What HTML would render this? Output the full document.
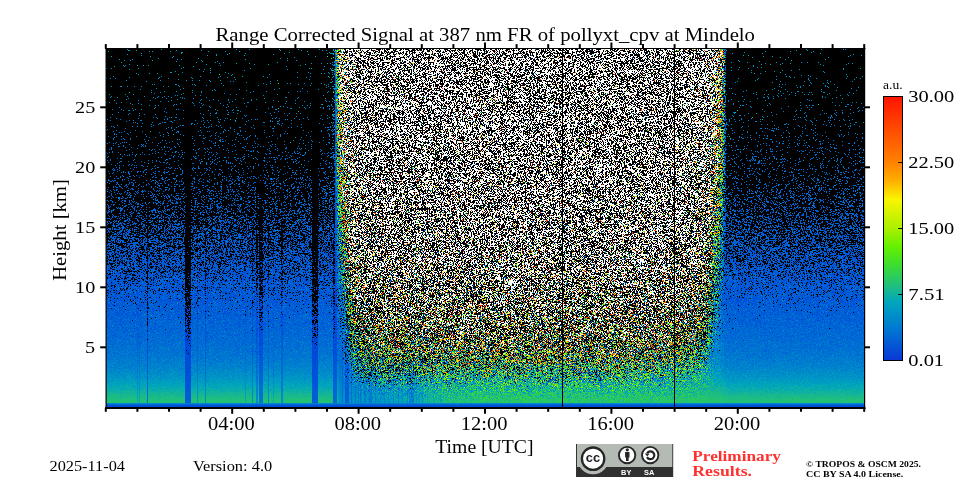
<!DOCTYPE html>
<html>
<head>
<meta charset="utf-8">
<style>
html,body{margin:0;padding:0;background:#fff;}
body{width:960px;height:480px;position:relative;overflow:hidden;font-family:"Liberation Serif",serif;}
#fb{position:absolute;left:106px;top:48px;width:758px;height:359px;background:#000;}
#fb i{position:absolute;top:0;height:359px;display:block;}
#c{position:absolute;left:106px;top:48px;width:758px;height:359px;}
svg{position:absolute;left:0;top:0;}
</style>
</head>
<body>
<div id="fb"><i style="left:0px;width:6px;background:linear-gradient(#000304 0px,#000304 16px,#000304 32px,#000609 48px,#000204 64px,#000407 80px,#00080f 96px,#000b14 112px,#000b17 128px,#000e1e 144px,#001935 160px,#001a3a 176px,#00204a 192px,#002e6e 208px,#003989 224px,#00419e 240px,#004db2 256px,#0055bc 272px,#005cbb 288px,#0063b9 304px,#0075b3 320px,#028da4 336px,#17a576 352px,#19a673 354px,#0076b3 355px,#0059bc 356px,#0049be 357px,#0042be 358px)"></i><i style="left:6px;width:6px;background:linear-gradient(#000000 0px,#000102 16px,#000304 32px,#000406 48px,#000406 64px,#000a11 80px,#000a13 96px,#00050b 112px,#00142a 128px,#001225 144px,#000f1e 160px,#00244d 176px,#003271 192px,#003271 208px,#004299 224px,#004ebb 240px,#0057cd 256px,#0060d5 272px,#0066d4 288px,#0073d1 304px,#0084cb 320px,#03a1b8 336px,#1bbb85 352px,#1dbd80 354px,#0082cc 355px,#0064d5 356px,#0054d7 357px,#004ad8 358px)"></i><i style="left:12px;width:6px;background:linear-gradient(#000000 0px,#000406 16px,#000204 32px,#000102 48px,#00060a 64px,#000204 80px,#000c15 96px,#000d17 112px,#000e1a 128px,#00162b 144px,#001835 160px,#002a5b 176px,#00295d 192px,#00337b 208px,#0046a7 224px,#004fb9 240px,#005ad1 256px,#005fd5 272px,#006ad3 288px,#0073d1 304px,#0082cc 320px,#03a1b8 336px,#1aba87 352px,#1cbc83 354px,#0087ca 355px,#0066d5 356px,#0054d7 357px,#004bd8 358px)"></i><i style="left:18px;width:6px;background:linear-gradient(#000d10 0px,#00070a 16px,#000406 32px,#000709 48px,#000508 64px,#00070d 80px,#00080f 96px,#00080f 112px,#000e1c 128px,#001730 144px,#001833 160px,#002756 176px,#002c64 192px,#00367c 208px,#003786 224px,#0045a7 240px,#0056c8 256px,#0062d5 272px,#0068d4 288px,#0075d1 304px,#0084cb 320px,#04a2b7 336px,#1abb86 352px,#1cbc82 354px,#0086ca 355px,#0066d4 356px,#0053d7 357px,#004ad8 358px)"></i><i style="left:24px;width:6px;background:linear-gradient(#000000 0px,#000304 16px,#000102 32px,#000204 48px,#000508 64px,#00070c 80px,#000306 96px,#000c18 112px,#000e1c 128px,#00142a 144px,#001937 160px,#001937 176px,#003478 192px,#003f90 208px,#00357f 224px,#004eb9 240px,#0056c1 256px,#0060d3 272px,#006ad3 288px,#0073d1 304px,#0082cc 320px,#03a1b8 336px,#1aba87 352px,#1cbc82 354px,#0088ca 355px,#0068d4 356px,#0053d7 357px,#004ad8 358px)"></i><i style="left:30px;width:6px;background:linear-gradient(#00090c 0px,#000304 16px,#000406 32px,#000406 48px,#00060a 64px,#00060a 80px,#00060a 96px,#00070d 112px,#00070f 128px,#000c1a 144px,#001a37 160px,#001835 176px,#00295d 192px,#002b66 208px,#003e95 224px,#004fc0 240px,#0052c7 256px,#005ed5 272px,#0063d5 288px,#0070d2 304px,#007ecd 320px,#029abe 336px,#12b398 352px,#13b595 354px,#0087ca 355px,#0067d4 356px,#0053d7 357px,#004bd8 358px)"></i><i style="left:36px;width:6px;background:linear-gradient(#000000 0px,#000102 16px,#000102 32px,#000102 48px,#000102 64px,#000306 80px,#000a13 96px,#00060d 112px,#000b15 128px,#000e1c 144px,#001021 160px,#001b3e 176px,#00285d 192px,#003071 208px,#003788 224px,#0047a9 240px,#004db9 256px,#0058c1 272px,#0063cf 288px,#006ed2 304px,#007dcd 320px,#0397bc 336px,#15ae94 352px,#17af90 354px,#0080cd 355px,#0068d4 356px,#0054d7 357px,#004bd8 358px)"></i><i style="left:42px;width:6px;background:linear-gradient(#000608 0px,#000406 16px,#000304 32px,#000508 48px,#000204 64px,#00070a 80px,#00070d 96px,#00070d 112px,#000c18 128px,#001327 144px,#001225 160px,#001e40 176px,#002a5d 192px,#00347d 208px,#003f93 224px,#004bb0 240px,#0056c6 256px,#0063d2 272px,#0069d4 288px,#0074d1 304px,#0084cb 320px,#02a0ba 336px,#1abb86 352px,#1cbc83 354px,#0084cc 355px,#0066d4 356px,#0055d7 357px,#004bd8 358px)"></i><i style="left:48px;width:6px;background:linear-gradient(#000000 0px,#000102 16px,#000608 32px,#00070a 48px,#00090e 64px,#000306 80px,#00070d 96px,#000c15 112px,#001123 128px,#00162e 144px,#001f42 160px,#00234b 176px,#002a62 192px,#002e6d 208px,#003e93 224px,#004fb9 240px,#0056c8 256px,#0063d2 272px,#0069d4 288px,#0073d1 304px,#0084cb 320px,#03a1b9 336px,#19ba88 352px,#1bbc84 354px,#0084cc 355px,#0068d4 356px,#0054d7 357px,#004ad8 358px)"></i><i style="left:54px;width:6px;background:linear-gradient(#000304 0px,#000000 16px,#000406 32px,#00070a 48px,#000508 64px,#00070d 80px,#000b13 96px,#00080f 112px,#001427 128px,#000d1c 144px,#001935 160px,#002149 176px,#002f6a 192px,#003a88 208px,#003a88 224px,#0051bb 240px,#005acf 256px,#0062d3 272px,#0069d1 288px,#0075d1 304px,#0084cb 320px,#03a0b9 336px,#1aba87 352px,#1cbc83 354px,#007fcd 355px,#0068d4 356px,#0054d7 357px,#004ad8 358px)"></i><i style="left:60px;width:6px;background:linear-gradient(#000304 0px,#000000 16px,#000608 32px,#00070a 48px,#00060a 64px,#000b13 80px,#00080f 96px,#000d18 112px,#000c18 128px,#00162c 144px,#001631 160px,#002149 176px,#002556 192px,#00357a 208px,#0045a0 224px,#004cb9 240px,#0057cb 256px,#0061d5 272px,#0068d4 288px,#0073d1 304px,#0084cb 320px,#03a1b8 336px,#1abb86 352px,#1cbc82 354px,#0082cc 355px,#0067d4 356px,#0054d7 357px,#004bd8 358px)"></i><i style="left:66px;width:6px;background:linear-gradient(#000304 0px,#00070a 16px,#000204 32px,#000508 48px,#00090e 64px,#000a10 80px,#00080e 96px,#00070c 112px,#001120 128px,#00142a 144px,#001f40 160px,#002b5f 176px,#002b5f 192px,#003b88 208px,#00419a 224px,#004ab0 240px,#0059d1 256px,#0063d5 272px,#0069d4 288px,#0073d1 304px,#0085cb 320px,#03a1b9 336px,#1abb87 352px,#1cbc82 354px,#0083cc 355px,#0067d4 356px,#0053d7 357px,#004ad8 358px)"></i><i style="left:72px;width:6px;background:linear-gradient(#00090c 0px,#000608 16px,#00070a 32px,#000b10 48px,#000508 64px,#000a11 80px,#00060a 96px,#000e1a 112px,#000f1e 128px,#00172e 144px,#001228 160px,#00244b 176px,#002656 192px,#003f8e 208px,#003f93 224px,#004cb4 240px,#0058cd 256px,#005dd1 272px,#006ad3 288px,#0073d1 304px,#0084cb 320px,#03a1b9 336px,#19ba88 352px,#1bbb85 354px,#0083cc 355px,#0067d4 356px,#0053d7 357px,#004ad8 358px)"></i><i style="left:78px;width:6px;background:linear-gradient(#000000 0px,#000000 16px,#000102 32px,#000102 48px,#000000 64px,#000000 80px,#000000 96px,#000102 112px,#000000 128px,#000408 144px,#000811 160px,#000711 176px,#000711 192px,#000b1a 208px,#000c1f 224px,#001433 240px,#001e50 256px,#002970 272px,#003ba6 288px,#004fd2 304px,#0057d5 320px,#0062d2 336px,#046dc8 352px,#046dc8 354px,#007ad0 355px,#0063d5 356px,#0052d7 357px,#0049d8 358px)"></i><i style="left:84px;width:6px;background:linear-gradient(#000000 0px,#000102 16px,#00080c 32px,#00080c 48px,#000102 64px,#00060a 80px,#00080f 96px,#000911 112px,#001123 128px,#000e1c 144px,#001730 160px,#001c3e 176px,#002450 192px,#002b64 208px,#003988 224px,#00429c 240px,#004bb2 256px,#0058c6 272px,#0060ce 288px,#006bd0 304px,#007ccd 320px,#0294be 336px,#16ab94 352px,#17ad90 354px,#0081cd 355px,#0066d5 356px,#0054d7 357px,#004ad8 358px)"></i><i style="left:90px;width:6px;background:linear-gradient(#000304 0px,#000608 16px,#000304 32px,#00090e 48px,#000204 64px,#000a11 80px,#000204 96px,#000d18 112px,#000c18 128px,#000e1f 144px,#00152c 160px,#001631 176px,#002e65 192px,#00316f 208px,#003e90 224px,#004ab2 240px,#0050bd 256px,#005fd3 272px,#0066d4 288px,#0070d2 304px,#0080cc 320px,#029bbc 336px,#15b591 352px,#17b68d 354px,#0083cc 355px,#0066d5 356px,#0054d7 357px,#004ad8 358px)"></i><i style="left:96px;width:6px;background:linear-gradient(#000304 0px,#000608 16px,#000102 32px,#000102 48px,#00060a 64px,#000a11 80px,#000a13 96px,#00080f 112px,#000c18 128px,#001021 144px,#001a37 160px,#001d3e 176px,#00285d 192px,#00357d 208px,#003a8f 224px,#0047b0 240px,#0054cb 256px,#0060d3 272px,#0064d4 288px,#0070d2 304px,#0080cc 320px,#039abc 336px,#16b391 352px,#17b58d 354px,#0082cc 355px,#0067d4 356px,#0054d7 357px,#004ad8 358px)"></i><i style="left:102px;width:6px;background:linear-gradient(#000304 0px,#000304 16px,#000406 32px,#000406 48px,#00060a 64px,#000a11 80px,#00080f 96px,#001120 112px,#000b16 128px,#001a34 144px,#001833 160px,#002754 176px,#002b5e 192px,#003478 208px,#00429c 224px,#004eb9 240px,#0058cd 256px,#005fd3 272px,#0069d4 288px,#0074d1 304px,#0084cb 320px,#03a0b8 336px,#1abb86 352px,#1cbc82 354px,#0087ca 355px,#0068d4 356px,#0054d7 357px,#004ad8 358px)"></i><i style="left:108px;width:6px;background:linear-gradient(#000608 0px,#000406 16px,#000302 32px,#000406 48px,#00090f 64px,#00080f 80px,#000b13 96px,#000e1a 112px,#000c18 128px,#000e1c 144px,#001c3b 160px,#002b5f 176px,#003371 192px,#003276 208px,#003b8f 224px,#0052bf 240px,#005bcf 256px,#0062d5 272px,#0068d4 288px,#0071d2 304px,#0083cb 320px,#03a0b9 336px,#19ba87 352px,#1cbc83 354px,#0086ca 355px,#0066d4 356px,#0054d7 357px,#004ad8 358px)"></i><i style="left:114px;width:6px;background:linear-gradient(#000304 0px,#000304 16px,#00070a 32px,#000204 48px,#000306 64px,#000a11 80px,#000c15 96px,#000508 112px,#000c18 128px,#001327 144px,#001833 160px,#002b62 176px,#002454 192px,#003074 208px,#004299 224px,#004ab2 240px,#0056c8 256px,#0061d5 272px,#006ad3 288px,#0074d1 304px,#0085cb 320px,#02a0ba 336px,#1aba87 352px,#1bbc83 354px,#0085cb 355px,#0068d4 356px,#0054d7 357px,#004ad8 358px)"></i><i style="left:120px;width:6px;background:linear-gradient(#000608 0px,#000000 16px,#000608 32px,#000508 48px,#000c12 64px,#000306 80px,#00060a 96px,#000b15 112px,#001021 128px,#001a34 144px,#001228 160px,#00234b 176px,#002f6a 192px,#003378 208px,#00439e 224px,#0051c4 240px,#0056cd 256px,#0061d5 272px,#0068d4 288px,#0072d1 304px,#0084cb 320px,#03a1b8 336px,#1abb85 352px,#1cbd82 354px,#0084cb 355px,#0065d5 356px,#0055d7 357px,#004ad8 358px)"></i><i style="left:126px;width:6px;background:linear-gradient(#000304 0px,#000102 16px,#000608 32px,#000406 48px,#00090e 64px,#00080c 80px,#000911 96px,#000a13 112px,#000c18 128px,#001225 144px,#001327 160px,#00244d 176px,#002d66 192px,#003988 208px,#0045a5 224px,#004db7 240px,#0057c6 256px,#0062d5 272px,#0069d4 288px,#0070d2 304px,#0084cb 320px,#02a0ba 336px,#19ba88 352px,#1bbc84 354px,#0088ca 355px,#0067d4 356px,#0055d7 357px,#004bd8 358px)"></i><i style="left:132px;width:6px;background:linear-gradient(#000304 0px,#000000 16px,#000102 32px,#000204 48px,#000405 64px,#00080f 80px,#00060a 96px,#000a13 112px,#00172e 128px,#001325 144px,#001730 160px,#001f45 176px,#00316f 192px,#003071 208px,#0047ac 224px,#004fbd 240px,#0059cd 256px,#0060d5 272px,#0069d4 288px,#0071d2 304px,#0084cb 320px,#03a1b8 336px,#1abb85 352px,#1cbd81 354px,#0083cc 355px,#0065d5 356px,#0055d7 357px,#004ad8 358px)"></i><i style="left:138px;width:6px;background:linear-gradient(#00090c 0px,#000406 16px,#000102 32px,#000508 48px,#000508 64px,#000508 80px,#000c15 96px,#00080f 112px,#000911 128px,#000c1a 144px,#001833 160px,#00234b 176px,#002f6a 192px,#003681 208px,#0047ae 224px,#004eb6 240px,#0058cd 256px,#005fd1 272px,#0066d4 288px,#0072d1 304px,#0081cc 320px,#029ebb 336px,#16b88e 352px,#18b98a 354px,#0086cb 355px,#0068d4 356px,#0054d7 357px,#004ad8 358px)"></i><i style="left:144px;width:6px;background:linear-gradient(#000000 0px,#000304 16px,#000000 32px,#000508 48px,#000204 64px,#00060a 80px,#000c15 96px,#00080f 112px,#000c18 128px,#001529 144px,#00142c 160px,#00214b 176px,#002e6d 192px,#002a64 208px,#003f97 224px,#004eb6 240px,#004ebb 256px,#005fd3 272px,#0063d2 288px,#006fd2 304px,#0080cc 320px,#039bbb 336px,#15b293 352px,#17b48f 354px,#0086ca 355px,#0066d5 356px,#0054d7 357px,#004ad8 358px)"></i><i style="left:150px;width:6px;background:linear-gradient(#000000 0px,#000000 16px,#000102 32px,#000102 48px,#000204 64px,#000000 80px,#00060a 96px,#00050b 112px,#000408 128px,#00060d 144px,#00070f 160px,#000711 176px,#000d21 192px,#00132e 208px,#001c47 224px,#002764 240px,#003fa8 256px,#0041aa 272px,#0052d5 288px,#005cd6 304px,#0068d3 320px,#0078ce 336px,#0487c1 352px,#0588c0 354px,#0082cc 355px,#0065d5 356px,#0053d7 357px,#0049d8 358px)"></i><i style="left:156px;width:6px;background:linear-gradient(#000000 0px,#000000 16px,#000508 32px,#000508 48px,#000102 64px,#000508 80px,#000306 96px,#000c18 112px,#000f1c 128px,#00080f 144px,#001935 160px,#001d40 176px,#002b62 192px,#002c66 208px,#003581 224px,#0043a5 240px,#004db7 256px,#0059cd 272px,#0064d2 288px,#006dd2 304px,#007dcd 320px,#0398bc 336px,#15af93 352px,#17b08f 354px,#0084cb 355px,#0067d4 356px,#0054d7 357px,#004ad8 358px)"></i><i style="left:162px;width:6px;background:linear-gradient(#000304 0px,#000102 16px,#000406 32px,#000102 48px,#00080c 64px,#000a11 80px,#000a13 96px,#000b16 112px,#001123 128px,#000f21 144px,#00162e 160px,#002047 176px,#00214b 192px,#002d6b 208px,#003b8c 224px,#0046a9 240px,#0057cf 256px,#0059cf 272px,#0066d4 288px,#006ed2 304px,#007dce 320px,#0298bd 336px,#11af9a 352px,#13b096 354px,#0086ca 355px,#0066d4 356px,#0055d7 357px,#004bd8 358px)"></i><i style="left:168px;width:6px;background:linear-gradient(#000304 0px,#000102 16px,#000302 32px,#000508 48px,#000b10 64px,#00090e 80px,#00070d 96px,#000b15 112px,#000f1e 128px,#001021 144px,#001730 160px,#002149 176px,#003373 192px,#003c8c 208px,#0044aa 224px,#004db9 240px,#0058cf 256px,#0064d2 272px,#0068d4 288px,#0072d1 304px,#0084cb 320px,#03a1b9 336px,#1abb87 352px,#1cbc82 354px,#0087ca 355px,#0068d4 356px,#0052d7 357px,#004ad8 358px)"></i><i style="left:174px;width:6px;background:linear-gradient(#000608 0px,#000102 16px,#000000 32px,#000204 48px,#000508 64px,#00070d 80px,#00060a 96px,#00080f 112px,#000911 128px,#000c18 144px,#001835 160px,#00142c 176px,#001837 192px,#002b64 208px,#003278 224px,#003f9a 240px,#0054c4 256px,#0057cf 272px,#0063d4 288px,#006dd3 304px,#007bce 320px,#0294c0 336px,#11ab9c 352px,#12ac9a 354px,#0080cd 355px,#0067d4 356px,#0054d7 357px,#004ad8 358px)"></i><i style="left:180px;width:6px;background:linear-gradient(#000304 0px,#000608 16px,#000204 32px,#000406 48px,#00080c 64px,#00060a 80px,#000406 96px,#000a13 112px,#00070f 128px,#001327 144px,#001833 160px,#002651 176px,#002c64 192px,#003d8e 208px,#003f93 224px,#0050bb 240px,#0055cb 256px,#0062d3 272px,#0067d4 288px,#0074d1 304px,#0085cb 320px,#03a1b9 336px,#1abb86 352px,#1cbc82 354px,#0086ca 355px,#0066d5 356px,#0054d7 357px,#004bd8 358px)"></i><i style="left:186px;width:6px;background:linear-gradient(#000000 0px,#000304 16px,#000304 32px,#000508 48px,#000306 64px,#000102 80px,#00060a 96px,#000d1a 112px,#00101e 128px,#00152c 144px,#001327 160px,#00224b 176px,#00275b 192px,#003886 208px,#003d8c 224px,#004bb4 240px,#0055c9 256px,#0061d5 272px,#006ad3 288px,#0072d1 304px,#0083cc 320px,#03a1b9 336px,#1abb87 352px,#1cbc82 354px,#0087ca 355px,#0065d5 356px,#0055d7 357px,#004bd8 358px)"></i><i style="left:192px;width:6px;background:linear-gradient(#000608 0px,#000102 16px,#000102 32px,#000406 48px,#00080c 64px,#000306 80px,#000a13 96px,#000d17 112px,#000f1e 128px,#001225 144px,#001f42 160px,#00244d 176px,#002e6a 192px,#003a88 208px,#00419a 224px,#004fbb 240px,#0057cb 256px,#0062d5 272px,#006ad3 288px,#0072d1 304px,#0085cb 320px,#03a1b9 336px,#1abb86 352px,#1cbd81 354px,#0087ca 355px,#0067d5 356px,#0054d7 357px,#004ad8 358px)"></i><i style="left:198px;width:6px;background:linear-gradient(#000608 0px,#000304 16px,#000608 32px,#000204 48px,#00080c 64px,#000204 80px,#000408 96px,#00070d 112px,#000e1c 128px,#000f1e 144px,#002144 160px,#002c5f 176px,#002d68 192px,#003b87 208px,#00429e 224px,#0052c2 240px,#0057cd 256px,#0062d2 272px,#006ad3 288px,#0075d1 304px,#0083cb 320px,#03a0b9 336px,#1aba87 352px,#1cbc82 354px,#0086ca 355px,#0068d4 356px,#0054d7 357px,#004ad8 358px)"></i><i style="left:204px;width:6px;background:linear-gradient(#000000 0px,#000406 16px,#000508 32px,#000102 48px,#000102 64px,#000102 80px,#00070d 96px,#000102 112px,#00050a 128px,#000a16 144px,#000914 160px,#000b1a 176px,#000e1f 192px,#001533 208px,#00193e 224px,#001e4c 240px,#002867 256px,#003b98 272px,#0043ae 288px,#0056d6 304px,#0061d3 320px,#016fcc 336px,#097cbb 352px,#097dba 354px,#007fcd 355px,#0065d5 356px,#0054d7 357px,#0049d8 358px)"></i><i style="left:210px;width:6px;background:linear-gradient(#000304 0px,#000102 16px,#000304 32px,#000102 48px,#000508 64px,#000306 80px,#000408 96px,#000408 112px,#000811 128px,#000811 144px,#000e1c 160px,#001a39 176px,#001a3e 192px,#002352 208px,#002a66 224px,#00337d 240px,#00429c 256px,#004db2 272px,#0057c3 288px,#0064d1 304px,#0073cf 320px,#0288c3 336px,#119ba2 352px,#129c9f 354px,#0082cc 355px,#0067d4 356px,#0053d7 357px,#004ad8 358px)"></i><i style="left:216px;width:6px;background:linear-gradient(#00090c 0px,#000706 16px,#000508 32px,#00070a 48px,#000a0e 64px,#000508 80px,#000306 96px,#000a13 112px,#001021 128px,#002244 144px,#001e3d 160px,#002149 176px,#002f68 192px,#003d8e 208px,#003c8e 224px,#0049ae 240px,#0059cd 256px,#0060d5 272px,#0068d4 288px,#0073d1 304px,#0084cb 320px,#039fba 336px,#19ba88 352px,#1bbc84 354px,#0082cc 355px,#0068d4 356px,#0055d7 357px,#004bd8 358px)"></i><i style="left:222px;width:6px;background:linear-gradient(#001a20 0px,#021513 16px,#00181f 32px,#010e0f 48px,#011923 64px,#001b2c 80px,#00101b 96px,#001b32 112px,#000f1e 128px,#001f3c 144px,#001d3b 160px,#002754 176px,#002b64 192px,#002f6f 208px,#003c93 224px,#0048a4 240px,#004eb6 256px,#0058ca 272px,#0062cd 288px,#006cd2 304px,#007dcd 320px,#0296be 336px,#16ad93 352px,#17ae90 354px,#0084cc 355px,#0067d4 356px,#0054d7 357px,#004ad8 358px)"></i><i style="left:228px;width:6px;background:linear-gradient(#3a6048 0px,#4c8273 16px,#317a60 32px,#43857d 48px,#447772 64px,#386d68 80px,#2f6e66 96px,#27686f 112px,#1f6b71 128px,#1e6d78 144px,#156982 160px,#0c608d 176px,#095b91 192px,#01509e 208px,#025baf 224px,#0253ab 240px,#0048a7 256px,#0053c3 272px,#0056cf 288px,#005fd5 304px,#0068d3 320px,#0077ce 336px,#0183c8 352px,#0184c7 354px,#007ece 355px,#0063d5 356px,#0052d7 357px,#0049d8 358px)"></i><i style="left:234px;width:6px;background:linear-gradient(#767e66 0px,#949e85 16px,#a29e88 32px,#8f9570 48px,#8f936a 64px,#899069 80px,#8d8e78 96px,#869d6b 112px,#6f7e42 128px,#79935f 144px,#587b39 160px,#5c7637 176px,#2f715c 192px,#326d52 208px,#1b6c67 224px,#146b87 240px,#045c94 256px,#025b9f 272px,#005fb4 288px,#005dbb 304px,#006bce 320px,#0077cf 336px,#0081cb 352px,#0082cb 354px,#0081cd 355px,#0065d5 356px,#0051d8 357px,#0049d8 358px)"></i><i style="left:240px;width:6px;background:linear-gradient(#747474 0px,#979790 16px,#8b8f84 32px,#948e80 48px,#899084 64px,#7e8782 80px,#7e806e 96px,#7f7d74 112px,#778472 128px,#7c8167 144px,#6d7d62 160px,#697154 176px,#727457 192px,#717a51 208px,#4a5e40 224px,#4d674a 240px,#346c38 256px,#22583d 272px,#11545d 288px,#035b88 304px,#0162bb 320px,#006acb 336px,#0072d0 352px,#0073d0 354px,#007ece 355px,#0063d5 356px,#0051d8 357px,#004ad8 358px)"></i><i style="left:246px;width:6px;background:linear-gradient(#848484 0px,#898d85 16px,#807f78 32px,#848581 48px,#82847e 64px,#787d7c 80px,#867d79 96px,#8a8676 112px,#8d9383 128px,#87867f 144px,#878371 160px,#8e927a 176px,#88897f 192px,#81867a 208px,#707257 224px,#6b7955 240px,#536145 256px,#475833 272px,#2e634a 288px,#23765f 304px,#0c6e87 320px,#0181c3 336px,#008dc7 352px,#008ec7 354px,#007dce 355px,#0065d5 356px,#0052d7 357px,#0049d8 358px)"></i><i style="left:252px;width:6px;background:linear-gradient(#8f9080 0px,#747472 16px,#747471 32px,#878784 48px,#7c8076 64px,#97928f 80px,#7a7a72 96px,#767878 112px,#82837b 128px,#807d6a 144px,#73796c 160px,#7f7f78 176px,#6e6e6a 192px,#7a816e 208px,#727d64 224px,#706d59 240px,#576963 256px,#455536 272px,#385735 288px,#396a39 304px,#106b6e 320px,#0379b1 336px,#008ac7 352px,#008bc7 354px,#007ece 355px,#0064d5 356px,#0053d7 357px,#004ad8 358px)"></i><i style="left:258px;width:6px;background:linear-gradient(#7a7a7a 0px,#7f7e7d 16px,#8c8b8a 32px,#878780 48px,#64615f 64px,#74706f 80px,#81837e 96px,#8a8c8a 112px,#8a867f 128px,#75797b 144px,#858678 160px,#6a6c5b 176px,#767671 192px,#7b8373 208px,#616859 224px,#777560 240px,#57675a 256px,#60654e 272px,#436248 288px,#2a5d46 304px,#1c6f59 320px,#0373ac 336px,#0086c9 352px,#0088c9 354px,#0083cc 355px,#0065d5 356px,#0053d7 357px,#0049d8 358px)"></i><i style="left:264px;width:6px;background:linear-gradient(#7c7c74 0px,#7f7d7a 16px,#86867d 32px,#a2a19f 48px,#71716a 64px,#8a8987 80px,#7e7d7a 96px,#797b79 112px,#73776e 128px,#7e7d7b 144px,#6f6a60 160px,#6c7369 176px,#545e55 192px,#8b8c76 208px,#838376 224px,#5a5a4d 240px,#5a5f51 256px,#4b5441 272px,#4e6b4f 288px,#4d6c40 304px,#1a5954 320px,#057da9 336px,#0089c7 352px,#0089c8 354px,#007dce 355px,#0066d5 356px,#0052d7 357px,#004ad8 358px)"></i><i style="left:270px;width:6px;background:linear-gradient(#5a5d5d 0px,#8e908e 16px,#7a7c77 32px,#848382 48px,#7d7d7a 64px,#7c7c79 80px,#71716c 96px,#8a8c8a 112px,#75726e 128px,#757a75 144px,#73766e 160px,#7e7e77 176px,#676c6c 192px,#72726c 208px,#727e72 224px,#7a7d65 240px,#595945 256px,#6a6e3d 272px,#637049 288px,#3f704e 304px,#2c7b5d 320px,#0a83a4 336px,#0192c3 352px,#0194c2 354px,#0080cd 355px,#0065d5 356px,#0053d7 357px,#004ad8 358px)"></i><i style="left:276px;width:6px;background:linear-gradient(#646464 0px,#828483 16px,#646361 32px,#686561 48px,#858a88 64px,#878584 80px,#7a7c77 96px,#7d7e7d 112px,#74746f 128px,#85877e 144px,#8e8d8c 160px,#736f66 176px,#807b71 192px,#76726a 208px,#6c6b62 224px,#5e5e42 240px,#7a866c 256px,#76765e 272px,#57774b 288px,#3c683a 304px,#2b7342 320px,#149092 336px,#0194c2 352px,#0197c1 354px,#0080cd 355px,#0065d5 356px,#0052d7 357px,#0049d8 358px)"></i><i style="left:282px;width:6px;background:linear-gradient(#757877 0px,#84827f 16px,#84807f 32px,#878687 48px,#868b86 64px,#7f807e 80px,#727373 96px,#5f6263 112px,#696863 128px,#757876 144px,#8e9491 160px,#918b83 176px,#6a6b64 192px,#838579 208px,#74766e 224px,#5b625d 240px,#656b58 256px,#667852 272px,#575732 288px,#577d3c 304px,#1f635c 320px,#0a7b98 336px,#0195c1 352px,#0195c2 354px,#007fce 355px,#0064d5 356px,#0052d7 357px,#004ad8 358px)"></i><i style="left:288px;width:6px;background:linear-gradient(#7b7e74 0px,#9a9a9a 16px,#73766b 32px,#7a7c7b 48px,#767976 64px,#9ea09d 80px,#888b85 96px,#7e807e 112px,#7c7a79 128px,#8d8f8d 144px,#5b5a50 160px,#81867d 176px,#7a7b75 192px,#7f7f7a 208px,#7b8074 224px,#8d8369 240px,#6c644c 256px,#6a7556 272px,#565437 288px,#556841 304px,#23644f 320px,#0c899b 336px,#039bba 352px,#029abd 354px,#0083cc 355px,#0065d5 356px,#0054d7 357px,#004ad8 358px)"></i><i style="left:294px;width:6px;background:linear-gradient(#8a8a8a 0px,#777a78 16px,#828384 32px,#858681 48px,#8f8f8f 64px,#848587 80px,#85837c 96px,#868179 112px,#746f6c 128px,#84877c 144px,#8b887f 160px,#65675e 176px,#75736f 192px,#61635a 208px,#7d7a6e 224px,#69705d 240px,#636959 256px,#75785d 272px,#586b2a 288px,#41582b 304px,#2b6a57 320px,#139998 336px,#039dba 352px,#039dba 354px,#0084cb 355px,#0065d5 356px,#0053d7 357px,#004ad8 358px)"></i><i style="left:300px;width:6px;background:linear-gradient(#6f6f6f 0px,#8f918c 16px,#7c7a7a 32px,#70716d 48px,#959592 64px,#858686 80px,#7c7c78 96px,#7e7e7c 112px,#74746d 128px,#7f8181 144px,#576059 160px,#676458 176px,#797b6f 192px,#767568 208px,#8b887c 224px,#6a6858 240px,#6d786c 256px,#565942 272px,#526847 288px,#4c7535 304px,#18695e 320px,#087d9d 336px,#028dc2 352px,#0390c0 354px,#007dce 355px,#0065d5 356px,#0051d7 357px,#004ad8 358px)"></i><i style="left:306px;width:6px;background:linear-gradient(#646464 0px,#767873 16px,#858686 32px,#8a8684 48px,#8a8c8b 64px,#7d7d7a 80px,#827f7f 96px,#858980 112px,#6e6b67 128px,#827f7c 144px,#817d76 160px,#7c8281 176px,#7e837e 192px,#707b65 208px,#7a8273 224px,#69736c 240px,#6c715e 256px,#5f6a51 272px,#4d6652 288px,#4f6b45 304px,#296f57 320px,#0a88a7 336px,#0394be 352px,#0395bd 354px,#007ccf 355px,#0063d5 356px,#0053d7 357px,#0049d8 358px)"></i><i style="left:312px;width:6px;background:linear-gradient(#5f5c5a 0px,#828282 16px,#8d8d8b 32px,#6b7071 48px,#6c6967 64px,#747676 80px,#8b8c88 96px,#8f8f90 112px,#72746e 128px,#7a7e73 144px,#797d74 160px,#727268 176px,#808380 192px,#878a87 208px,#717160 224px,#69705d 240px,#626658 256px,#4b5848 272px,#576c4d 288px,#3f6347 304px,#2c7957 320px,#119799 336px,#059eb6 352px,#05a0b5 354px,#0084cb 355px,#0065d5 356px,#0054d7 357px,#004bd8 358px)"></i><i style="left:318px;width:6px;background:linear-gradient(#6d6f6a 0px,#777472 16px,#848382 32px,#848587 48px,#747577 64px,#84807f 80px,#81807a 96px,#999997 112px,#a0a097 128px,#848683 144px,#7a7870 160px,#6a7171 176px,#7c7e72 192px,#857c72 208px,#818070 224px,#686d62 240px,#7a846a 256px,#7e825f 272px,#495e4f 288px,#4b6035 304px,#347750 320px,#179f8e 336px,#0eada0 352px,#0daca2 354px,#0086cb 355px,#0066d5 356px,#0054d7 357px,#004ad8 358px)"></i><i style="left:324px;width:6px;background:linear-gradient(#8b8985 0px,#9c9894 16px,#91918e 32px,#82817f 48px,#878684 64px,#848382 80px,#7a7a75 96px,#858785 112px,#7b7974 128px,#7b8376 144px,#72716d 160px,#7e7d75 176px,#6e736e 192px,#747873 208px,#727164 224px,#66695f 240px,#6f705c 256px,#737659 272px,#4d5534 288px,#5c744b 304px,#39754a 320px,#179c90 336px,#12b298 352px,#13b495 354px,#0082cc 355px,#0065d5 356px,#0054d7 357px,#004bd8 358px)"></i><i style="left:330px;width:6px;background:linear-gradient(#767975 0px,#9d9d9a 16px,#7a7777 32px,#8a8989 48px,#848789 64px,#636660 80px,#71726d 96px,#5d5f5c 112px,#777672 128px,#747874 144px,#858581 160px,#717571 176px,#828270 192px,#7c7d78 208px,#615f55 224px,#626a63 240px,#727b60 256px,#6f7e62 272px,#5c5e37 288px,#527148 304px,#398c5c 320px,#1ca78a 336px,#13b296 352px,#11b199 354px,#0081cd 355px,#0066d4 356px,#0054d7 357px,#004ad8 358px)"></i><i style="left:336px;width:6px;background:linear-gradient(#848484 0px,#727273 16px,#848382 32px,#827d7c 48px,#8d8d8b 64px,#94908c 80px,#828584 96px,#777675 112px,#7f807e 128px,#72736c 144px,#8a8a88 160px,#7e817b 176px,#787871 192px,#82837a 208px,#7b8074 224px,#6d7260 240px,#8b8a71 256px,#5f654c 272px,#5c603e 288px,#486e48 304px,#3b814e 320px,#26aa74 336px,#19b987 352px,#1aba85 354px,#0081cd 355px,#0067d4 356px,#0054d7 357px,#004ad8 358px)"></i><i style="left:342px;width:6px;background:linear-gradient(#7f7f7f 0px,#72716f 16px,#8d8e8c 32px,#7f7f7f 48px,#848384 64px,#83837b 80px,#85837f 96px,#747474 112px,#5f635f 128px,#7c7872 144px,#7d7b77 160px,#6f6c66 176px,#85847a 192px,#878b82 208px,#616763 224px,#706e63 240px,#61644e 256px,#6a6c55 272px,#615f43 288px,#506f43 304px,#327853 320px,#1ba286 336px,#1dbe7d 352px,#1dbd7e 354px,#0083cc 355px,#0067d5 356px,#0054d7 357px,#004bd8 358px)"></i><i style="left:348px;width:6px;background:linear-gradient(#6a6964 0px,#828585 16px,#777777 32px,#82837d 48px,#7f7f7a 64px,#8f938e 80px,#95918b 96px,#7c8178 112px,#7f8485 128px,#7e7e74 144px,#8c8a87 160px,#82847e 176px,#636460 192px,#787b72 208px,#837967 224px,#686355 240px,#67715e 256px,#545d3d 272px,#697251 288px,#647742 304px,#3d8347 320px,#21a586 336px,#1bbb82 352px,#1dbd7d 354px,#0088c9 355px,#0068d4 356px,#0055d7 357px,#004ad8 358px)"></i><i style="left:354px;width:6px;background:linear-gradient(#5a5a5a 0px,#7d807d 16px,#82807f 32px,#848484 48px,#898985 64px,#a4a3a4 80px,#777471 96px,#787875 112px,#858885 128px,#92908a 144px,#6d6f69 160px,#76786d 176px,#787a73 192px,#787671 208px,#727668 224px,#747769 240px,#727564 256px,#78866c 272px,#778157 288px,#466a3f 304px,#3a7c4c 320px,#20a383 336px,#1ebe7b 352px,#1fbf7b 354px,#0081cd 355px,#0065d5 356px,#0054d7 357px,#004ad8 358px)"></i><i style="left:360px;width:6px;background:linear-gradient(#9a9a9a 0px,#7a7a7a 16px,#898984 32px,#8f8e8c 48px,#8f8e8c 64px,#93948f 80px,#92928f 96px,#848584 112px,#92928a 128px,#808178 144px,#888078 160px,#7d7f79 176px,#7b7f76 192px,#848580 208px,#626361 224px,#576252 240px,#7c7b5a 256px,#7a7f6e 272px,#4c563f 288px,#476a3c 304px,#3b7955 320px,#22a77a 336px,#1ebe7d 352px,#1dbd7d 354px,#007ece 355px,#0067d4 356px,#0055d7 357px,#004bd8 358px)"></i><i style="left:366px;width:6px;background:linear-gradient(#53504a 0px,#6f6e6a 16px,#6c6e6e 32px,#878982 48px,#8b8984 64px,#7b7d7b 80px,#797774 96px,#777b74 112px,#7a7875 128px,#8a8a83 144px,#707372 160px,#908d89 176px,#75756d 192px,#7d817b 208px,#7d7c71 224px,#61685e 240px,#656957 256px,#78735d 272px,#657251 288px,#5f764c 304px,#2f8052 320px,#1fab83 336px,#24c46e 352px,#23c36f 354px,#0085cb 355px,#0068d4 356px,#0056d7 357px,#004bd8 358px)"></i><i style="left:372px;width:6px;background:linear-gradient(#6f6f6f 0px,#878684 16px,#81807c 32px,#76726c 48px,#7a7e78 64px,#8c8d84 80px,#877f77 96px,#87837f 112px,#8d867f 128px,#7c7f7a 144px,#7f7e78 160px,#80817c 176px,#828681 192px,#676e65 208px,#787a71 224px,#626e5a 240px,#735f3f 256px,#5e7163 272px,#60714a 288px,#506b3d 304px,#2e7857 320px,#23ad7e 336px,#23c370 352px,#22c272 354px,#0083cc 355px,#0067d4 356px,#0054d7 357px,#004bd8 358px)"></i><i style="left:378px;width:6px;background:linear-gradient(#646769 0px,#726c6a 16px,#767774 32px,#82817f 48px,#878584 64px,#7f8180 80px,#898e84 96px,#767672 112px,#848583 128px,#75746e 144px,#6c6b64 160px,#8c8a84 176px,#717270 192px,#898b81 208px,#757a6d 224px,#727561 240px,#66674d 256px,#5a5942 272px,#6d7254 288px,#486c4e 304px,#467a38 320px,#25ac77 336px,#21c174 352px,#23c46e 354px,#0082cc 355px,#0068d4 356px,#0054d7 357px,#004ad8 358px)"></i><i style="left:384px;width:6px;background:linear-gradient(#807f7c 0px,#82807f 16px,#a0a19f 32px,#8d9087 48px,#818480 64px,#8a8c8d 80px,#7f7d78 96px,#7a7977 112px,#84817c 128px,#7e807a 144px,#71736d 160px,#818671 176px,#868989 192px,#5b6158 208px,#7e7e74 224px,#6b6e53 240px,#69776b 256px,#626d4f 272px,#575f3e 288px,#516136 304px,#448354 320px,#23ad7b 336px,#22c273 352px,#22c273 354px,#0084cb 355px,#0067d4 356px,#0054d7 357px,#004ad8 358px)"></i><i style="left:390px;width:6px;background:linear-gradient(#7a7a7a 0px,#7f807f 16px,#676a68 32px,#8a8886 48px,#8c8c8a 64px,#8a827f 80px,#878584 96px,#817c72 112px,#6d7269 128px,#88827c 144px,#73706b 160px,#797975 176px,#797874 192px,#737662 208px,#979a98 224px,#676e5e 240px,#6e746e 256px,#6b725a 272px,#5a684c 288px,#596529 304px,#308352 320px,#29b579 336px,#21c174 352px,#23c370 354px,#0084cb 355px,#0069d4 356px,#0053d7 357px,#004bd8 358px)"></i><i style="left:396px;width:6px;background:linear-gradient(#5f6363 0px,#a29e9a 16px,#7f7d7c 32px,#7a7a77 48px,#7b7c7a 64px,#6f6f6f 80px,#777879 96px,#8f8d8c 112px,#82857d 128px,#7f8283 144px,#898b88 160px,#787972 176px,#767b77 192px,#857f73 208px,#6a6e6c 224px,#87836d 240px,#85887b 256px,#7e8359 272px,#5f6138 288px,#5d722f 304px,#428252 320px,#28ab73 336px,#21c273 352px,#23c36f 354px,#0083cc 355px,#0067d5 356px,#0054d7 357px,#004bd8 358px)"></i><i style="left:402px;width:6px;background:linear-gradient(#6f6b6a 0px,#7b7e7c 16px,#7a7877 32px,#61625f 48px,#8a8a86 64px,#8b8f8e 80px,#6f706f 96px,#88887f 112px,#8c8782 128px,#7c7a76 144px,#97938b 160px,#6a7069 176px,#7d7f77 192px,#818881 208px,#7f8077 224px,#a1a7a0 240px,#60675a 256px,#69694a 272px,#6e7056 288px,#5e6b41 304px,#428942 320px,#23aa76 336px,#21c174 352px,#24c46e 354px,#0086cb 355px,#0067d4 356px,#0052d7 357px,#004bd8 358px)"></i><i style="left:408px;width:6px;background:linear-gradient(#848484 0px,#949494 16px,#747474 32px,#8a8a8a 48px,#848484 64px,#8a8a8a 80px,#80817d 96px,#878684 112px,#7e7c77 128px,#858684 144px,#8a8680 160px,#73716c 176px,#7c7979 192px,#808575 208px,#838d7a 224px,#828679 240px,#676d58 256px,#696c59 272px,#616f48 288px,#51764d 304px,#397b4d 320px,#2ca86a 336px,#24c46d 352px,#24c46d 354px,#0083cc 355px,#0066d5 356px,#0053d7 357px,#004ad8 358px)"></i><i style="left:414px;width:6px;background:linear-gradient(#646464 0px,#878787 16px,#736f6c 32px,#a2a2a2 48px,#7f7e7f 64px,#8a8b8a 80px,#949492 96px,#7f7f7f 112px,#676962 128px,#727473 144px,#808480 160px,#948a84 176px,#8c8d82 192px,#757666 208px,#817b6f 224px,#6b6e68 240px,#686955 256px,#5d5f41 272px,#505a41 288px,#4d6945 304px,#3f8950 320px,#26ae75 336px,#23c36f 352px,#26c667 354px,#0081cc 355px,#0067d4 356px,#0054d7 357px,#004ad8 358px)"></i><i style="left:420px;width:6px;background:linear-gradient(#646364 0px,#878789 16px,#787977 32px,#72726f 48px,#726f6c 64px,#77776f 80px,#828282 96px,#7a7872 112px,#7a7977 128px,#7c7a79 144px,#84807e 160px,#7d7a78 176px,#78807b 192px,#7d7968 208px,#7e8475 224px,#6c7168 240px,#6d6855 256px,#6c7f66 272px,#536940 288px,#446935 304px,#3e8460 320px,#18a190 336px,#24c46d 352px,#25c569 354px,#0085cb 355px,#006ad4 356px,#0055d7 357px,#004bd8 358px)"></i><i style="left:426px;width:6px;background:linear-gradient(#848888 0px,#777879 16px,#737776 32px,#737472 48px,#717470 64px,#727372 80px,#80807d 96px,#8a8681 112px,#7e7e77 128px,#9a9894 144px,#70756f 160px,#7a7e7b 176px,#7b8079 192px,#8d8c7d 208px,#807768 224px,#656b66 240px,#87856f 256px,#627454 272px,#686b40 288px,#5a6e37 304px,#327d4c 320px,#29af74 336px,#24c46d 352px,#25c56a 354px,#0085cb 355px,#0068d4 356px,#0055d7 357px,#004ad8 358px)"></i><i style="left:432px;width:6px;background:linear-gradient(#6a6a6a 0px,#92918f 16px,#878583 32px,#747474 48px,#888887 64px,#737776 80px,#7c7e7f 96px,#78746c 112px,#7a7974 128px,#878a83 144px,#696964 160px,#807d72 176px,#8a8a82 192px,#79726c 208px,#7f8479 224px,#6a715b 240px,#807f69 256px,#58665f 272px,#4d5540 288px,#5c6e41 304px,#468c49 320px,#20a27c 336px,#22c172 352px,#21c175 354px,#0082cc 355px,#0068d4 356px,#0053d7 357px,#004ad8 358px)"></i><i style="left:438px;width:6px;background:linear-gradient(#6a6a6a 0px,#999997 16px,#90918f 32px,#848484 48px,#828483 64px,#87837f 80px,#848484 96px,#787a79 112px,#8b8b86 128px,#7f7976 144px,#848480 160px,#6d6a67 176px,#777a6c 192px,#808479 208px,#686756 224px,#687566 240px,#76796b 256px,#778063 272px,#646648 288px,#627338 304px,#438e58 320px,#21a77a 336px,#23c370 352px,#23c370 354px,#0082cc 355px,#0066d4 356px,#0054d7 357px,#004ad8 358px)"></i><i style="left:444px;width:6px;background:linear-gradient(#6f6f6f 0px,#767674 16px,#7c7d78 32px,#74746c 48px,#8a8d8e 64px,#8f9090 80px,#8a8b88 96px,#86897e 112px,#80817c 128px,#8f8f8d 144px,#6f6e69 160px,#8d938f 176px,#757574 192px,#848278 208px,#80796b 224px,#737d73 240px,#667362 256px,#676e50 272px,#536c4a 288px,#506c39 304px,#387e4c 320px,#259f83 336px,#24c46d 352px,#24c46e 354px,#0083cc 355px,#0067d4 356px,#0053d7 357px,#004bd8 358px)"></i><i style="left:450px;width:6px;background:linear-gradient(#646464 0px,#8a8884 16px,#72716f 32px,#6b6a67 48px,#7d8181 64px,#858281 80px,#7e7f7b 96px,#706f6a 112px,#6c6a67 128px,#8a8b87 144px,#908f8b 160px,#878a7e 176px,#7a7d7b 192px,#686c65 208px,#727062 224px,#717767 240px,#656d61 256px,#5c665b 272px,#47593a 288px,#535b34 304px,#3b8759 320px,#26aa73 336px,#20c175 352px,#23c370 354px,#0082cc 355px,#0068d4 356px,#0054d7 357px,#004ad8 358px)"></i><i style="left:456px;width:6px;background:linear-gradient(#4a4a4a 0px,#848282 16px,#626263 32px,#6f6e67 48px,#6f7071 64px,#696c64 80px,#656363 96px,#626564 112px,#6f7171 128px,#71736e 144px,#5e615d 160px,#4d514e 176px,#5f5e5e 192px,#5f6560 208px,#6e6f62 224px,#545c4e 240px,#5d5b49 256px,#4d4a2d 272px,#505128 288px,#516435 304px,#2e7444 320px,#1d8560 336px,#1da25c 352px,#1ea35a 354px,#0070a8 355px,#0054b1 356px,#0045b3 357px,#003eb4 358px)"></i><i style="left:462px;width:6px;background:linear-gradient(#7a7a7a 0px,#787b78 16px,#8c8c8c 32px,#7c7b7a 48px,#8b8f8d 64px,#929391 80px,#898782 96px,#8b8a87 112px,#8f8d8a 128px,#848281 144px,#85847f 160px,#888779 176px,#7a7b7c 192px,#777b74 208px,#788173 224px,#6a7066 240px,#747c60 256px,#666654 272px,#5f6852 288px,#506840 304px,#44824a 320px,#27ae74 336px,#21c174 352px,#20c176 354px,#0081cc 355px,#0067d4 356px,#0054d7 357px,#004bd8 358px)"></i><i style="left:468px;width:6px;background:linear-gradient(#747679 0px,#9b9c9a 16px,#82807f 32px,#7f8081 48px,#6f6f6c 64px,#7c8280 80px,#7c7e79 96px,#8f8a87 112px,#7e7d79 128px,#80817a 144px,#7f817d 160px,#83817c 176px,#7d7c6f 192px,#64665e 208px,#7f7f75 224px,#787363 240px,#777b70 256px,#5f6c59 272px,#656544 288px,#4f764c 304px,#376e55 320px,#2db169 336px,#23c271 352px,#24c36e 354px,#0083cc 355px,#0069d4 356px,#0053d7 357px,#004bd8 358px)"></i><i style="left:474px;width:6px;background:linear-gradient(#646464 0px,#828282 16px,#7c7a7a 32px,#717471 48px,#797e76 64px,#7c7c7c 80px,#83877f 96px,#a29f97 112px,#86867f 128px,#82887f 144px,#72716c 160px,#5c5c5b 176px,#747778 192px,#6a706b 208px,#8f856d 224px,#6d6957 240px,#637c60 256px,#68714d 272px,#7b7f55 288px,#556d3d 304px,#397e51 320px,#2baf79 336px,#24c36e 352px,#24c46d 354px,#0083cc 355px,#0065d5 356px,#0054d7 357px,#004ad8 358px)"></i><i style="left:480px;width:6px;background:linear-gradient(#454849 0px,#737472 16px,#70716c 32px,#8a8a8a 48px,#7a7674 64px,#6c6a67 80px,#76756d 96px,#8c8b86 112px,#777671 128px,#6c6c64 144px,#656a69 160px,#8c8e87 176px,#6b6b66 192px,#727874 208px,#706c5e 224px,#646852 240px,#63664c 256px,#62735d 272px,#4b5947 288px,#416037 304px,#307c65 320px,#23ac7c 336px,#21c175 352px,#22c273 354px,#0083cc 355px,#0067d4 356px,#0053d7 357px,#004ad8 358px)"></i><i style="left:486px;width:6px;background:linear-gradient(#757877 0px,#8a8989 16px,#8a8886 32px,#989a95 48px,#828381 64px,#727774 80px,#72706f 96px,#787d78 112px,#898a89 128px,#616865 144px,#7d8380 160px,#807f79 176px,#7a7876 192px,#6f6c66 208px,#7a7e72 224px,#84857c 240px,#6f7560 256px,#5b6a52 272px,#636c46 288px,#466b49 304px,#357d52 320px,#23a176 336px,#23c371 352px,#24c46e 354px,#0084cb 355px,#0068d4 356px,#0054d7 357px,#004ad8 358px)"></i><i style="left:492px;width:6px;background:linear-gradient(#74726f 0px,#969591 16px,#949799 32px,#7d7f7c 48px,#727472 64px,#877f7c 80px,#84817e 96px,#7c7d7d 112px,#888b89 128px,#716e69 144px,#797b74 160px,#78726c 176px,#6b6c66 192px,#828885 208px,#7d8071 224px,#767764 240px,#616c4e 256px,#6a6d5b 272px,#626945 288px,#778a46 304px,#3e784f 320px,#1d9985 336px,#1fbf79 352px,#21c174 354px,#0085cb 355px,#0067d4 356px,#0054d7 357px,#004bd8 358px)"></i><i style="left:498px;width:6px;background:linear-gradient(#84837f 0px,#797a77 16px,#828282 32px,#878a86 48px,#6c6e6b 64px,#777572 80px,#9c9a99 96px,#8f908e 112px,#91908c 128px,#8e9090 144px,#778078 160px,#6d746d 176px,#818582 192px,#7f817b 208px,#787b6b 224px,#666d57 240px,#81886b 256px,#585b43 272px,#666b44 288px,#48674e 304px,#468349 320px,#27b079 336px,#22c271 352px,#25c56a 354px,#0085cb 355px,#0067d4 356px,#0053d7 357px,#004ad8 358px)"></i><i style="left:504px;width:6px;background:linear-gradient(#5f5f5f 0px,#878784 16px,#87837d 32px,#94938f 48px,#83847e 64px,#9a9a9a 80px,#7c7e7a 96px,#898b88 112px,#87877f 128px,#827f7a 144px,#7d7e76 160px,#787970 176px,#8f8d81 192px,#6e7971 208px,#8a8279 224px,#69654e 240px,#6d735d 256px,#6d6a51 272px,#577b56 288px,#5f7241 304px,#3e834f 320px,#2eaf6e 336px,#23c36f 352px,#25c56c 354px,#0082cc 355px,#0068d4 356px,#0053d7 357px,#004ad8 358px)"></i><i style="left:510px;width:6px;background:linear-gradient(#74716f 0px,#848484 16px,#747874 32px,#787a79 48px,#878886 64px,#80817f 80px,#777877 96px,#6a6664 112px,#6f716d 128px,#82807e 144px,#73736d 160px,#848380 176px,#727271 192px,#7f8071 208px,#787e73 224px,#7d7e77 240px,#827e6c 256px,#6c6b59 272px,#536337 288px,#576935 304px,#448646 320px,#25ad73 336px,#24c46c 352px,#24c46d 354px,#0086ca 355px,#0067d4 356px,#0053d7 357px,#004ad8 358px)"></i><i style="left:516px;width:6px;background:linear-gradient(#7f7c74 0px,#828282 16px,#6c6b67 32px,#858980 48px,#797774 64px,#8a8a84 80px,#747470 96px,#747a72 112px,#80807c 128px,#8c8d8e 144px,#777c75 160px,#96978a 176px,#848076 192px,#6a786d 208px,#8c897a 224px,#64625e 240px,#5e655a 256px,#666553 272px,#778256 288px,#496849 304px,#3a874c 320px,#26a674 336px,#1ebf7a 352px,#21c174 354px,#0088ca 355px,#0067d4 356px,#0054d7 357px,#004ad8 358px)"></i><i style="left:522px;width:6px;background:linear-gradient(#6f6a6a 0px,#7d7d7d 16px,#7c7a7a 32px,#878582 48px,#848987 64px,#7f7e78 80px,#949492 96px,#828581 112px,#75746f 128px,#797a76 144px,#7f7d71 160px,#888b85 176px,#7a716f 192px,#737b70 208px,#757567 224px,#757570 240px,#706a5a 256px,#696748 272px,#6e7345 288px,#5a7a49 304px,#449358 320px,#26af76 336px,#22c273 352px,#25c46d 354px,#0084cb 355px,#0069d4 356px,#0054d7 357px,#004ad8 358px)"></i><i style="left:528px;width:6px;background:linear-gradient(#555555 0px,#7a7777 16px,#777774 32px,#7a7979 48px,#848484 64px,#82827f 80px,#777975 96px,#6c6b69 112px,#8f9489 128px,#656e67 144px,#7d837c 160px,#86857b 176px,#7d7e76 192px,#928f88 208px,#646d5f 224px,#6e6d60 240px,#656150 256px,#5c674f 272px,#67734c 288px,#436344 304px,#3b8357 320px,#2ab16f 336px,#24c46e 352px,#22c371 354px,#0089c9 355px,#0068d4 356px,#0054d7 357px,#004ad8 358px)"></i><i style="left:534px;width:6px;background:linear-gradient(#7f7c7a 0px,#7f7f7f 16px,#7e7c77 32px,#6a6d6d 48px,#858481 64px,#777775 80px,#878784 96px,#716f6c 112px,#787b76 128px,#7b7e72 144px,#7b776e 160px,#7c786a 176px,#817e74 192px,#959289 208px,#81847f 224px,#696d60 240px,#707b6c 256px,#586049 272px,#5e6f52 288px,#4a6b33 304px,#418f62 320px,#24ae80 336px,#22c272 352px,#24c46d 354px,#0085cb 355px,#0069d4 356px,#0053d7 357px,#004ad8 358px)"></i><i style="left:540px;width:6px;background:linear-gradient(#6c706e 0px,#7f7f7e 16px,#8c8d8e 32px,#848580 48px,#6c6b69 64px,#787975 80px,#878482 96px,#8b8b84 112px,#949292 128px,#8c8c8c 144px,#70726e 160px,#85847b 176px,#797a75 192px,#6b6c66 208px,#726c60 224px,#8f977b 240px,#60655d 256px,#586350 272px,#627459 288px,#566938 304px,#397e4a 320px,#26af7d 336px,#24c36f 352px,#23c371 354px,#0084cb 355px,#0068d4 356px,#0053d7 357px,#004ad8 358px)"></i><i style="left:546px;width:6px;background:linear-gradient(#6a6a6a 0px,#7a7b78 16px,#797774 32px,#878784 48px,#827f7c 64px,#83857f 80px,#8d8f8e 96px,#747673 112px,#878787 128px,#7d7e7b 144px,#8e9488 160px,#81837c 176px,#848788 192px,#6b7068 208px,#8d918a 224px,#6d746e 240px,#636049 256px,#696953 272px,#566047 288px,#4b6240 304px,#3d7e5b 320px,#1ca88f 336px,#21c174 352px,#22c371 354px,#0089c9 355px,#0066d4 356px,#0054d7 357px,#004bd8 358px)"></i><i style="left:552px;width:6px;background:linear-gradient(#7f7f7f 0px,#787975 16px,#6c6c6c 32px,#7c7c77 48px,#828281 64px,#747574 80px,#646867 96px,#878986 112px,#7a7d7b 128px,#8f8c87 144px,#7a7d71 160px,#7b7f7f 176px,#9b9d92 192px,#838381 208px,#7b7870 224px,#605e4f 240px,#747b5f 256px,#57674b 272px,#677947 288px,#476e4e 304px,#338c53 320px,#199f91 336px,#21c173 352px,#22c272 354px,#0082cc 355px,#0067d4 356px,#0054d7 357px,#004ad8 358px)"></i><i style="left:558px;width:6px;background:linear-gradient(#79766f 0px,#807d75 16px,#8c8c8c 32px,#777879 48px,#747978 64px,#777777 80px,#848384 96px,#7a7979 112px,#878683 128px,#7c7d73 144px,#7a7d78 160px,#7d8080 176px,#7e7e7b 192px,#737166 208px,#898b7d 224px,#77765d 240px,#7a7c60 256px,#60683d 272px,#636747 288px,#507142 304px,#359065 320px,#1baa8b 336px,#20c076 352px,#23c270 354px,#0087ca 355px,#0068d4 356px,#0053d7 357px,#004ad8 358px)"></i><i style="left:564px;width:6px;background:linear-gradient(#666966 0px,#626364 16px,#757877 32px,#6a6967 48px,#5f5f5f 64px,#6d6c67 80px,#746f6c 96px,#6e6b64 112px,#565754 128px,#757776 144px,#67625c 160px,#6c6c65 176px,#5a5b52 192px,#525646 208px,#65685a 224px,#686d62 240px,#55523c 256px,#4f6333 272px,#465c30 288px,#39542e 304px,#337c5b 320px,#1a8f6c 336px,#1a9f63 352px,#1ca15f 354px,#0070a9 355px,#0055b1 356px,#0046b3 357px,#003eb4 358px)"></i><i style="left:570px;width:6px;background:linear-gradient(#737970 0px,#6b6e6b 16px,#82807d 32px,#7f7f7c 48px,#757676 64px,#777572 80px,#9c9f90 96px,#727371 112px,#aaaba3 128px,#737a76 144px,#93928f 160px,#91928b 176px,#767872 192px,#55574b 208px,#78796c 224px,#7b7c6a 240px,#6b7d62 256px,#605b45 272px,#5e5c32 288px,#4f7130 304px,#339358 320px,#1bad7f 336px,#21c273 352px,#22c272 354px,#0084cb 355px,#0067d4 356px,#0053d7 357px,#004ad8 358px)"></i><i style="left:576px;width:6px;background:linear-gradient(#7f7a74 0px,#929292 16px,#7a7777 32px,#929394 48px,#878b82 64px,#727372 80px,#7c8077 96px,#928e86 112px,#828583 128px,#888178 144px,#767770 160px,#7b8177 176px,#7b7c75 192px,#706f62 208px,#6f705c 224px,#65715a 240px,#6a745d 256px,#606751 272px,#4b592b 288px,#3b7040 304px,#2a8d66 320px,#1caf86 336px,#21c274 352px,#23c370 354px,#0083cc 355px,#0067d4 356px,#0053d7 357px,#004ad8 358px)"></i><i style="left:582px;width:6px;background:linear-gradient(#55524f 0px,#8e8f88 16px,#9a9691 32px,#959692 48px,#848483 64px,#7e7d77 80px,#83867b 96px,#888b87 112px,#707269 128px,#72746b 144px,#797e78 160px,#74796f 176px,#696c66 192px,#999a8d 208px,#6b695a 224px,#877858 240px,#596457 256px,#476049 272px,#596e53 288px,#3c723f 304px,#2d9e69 320px,#17b18b 336px,#22c273 352px,#24c46d 354px,#0084cb 355px,#0067d4 356px,#0055d7 357px,#004ad8 358px)"></i><i style="left:588px;width:6px;background:linear-gradient(#67685f 0px,#8f8f8d 16px,#7b7d7b 32px,#8c827c 48px,#8c8b87 64px,#9a9694 80px,#87857c 96px,#7b7e76 112px,#7b7b6b 128px,#757e6f 144px,#797867 160px,#707366 176px,#83816e 192px,#94917d 208px,#727369 224px,#677157 240px,#636a4f 256px,#5e6d3b 272px,#496a47 288px,#2f6e46 304px,#26956e 320px,#1fb980 336px,#22c273 352px,#23c371 354px,#0085cb 355px,#0066d5 356px,#0054d7 357px,#004ad8 358px)"></i><i style="left:594px;width:6px;background:linear-gradient(#757876 0px,#85807d 16px,#989994 32px,#777871 48px,#83837f 64px,#848884 80px,#8f9188 96px,#8b8f88 112px,#6c7b73 128px,#8b8176 144px,#79765e 160px,#646b60 176px,#848f7d 192px,#747b65 208px,#717454 224px,#606d49 240px,#486749 256px,#4c653a 272px,#2a4e3a 288px,#277556 304px,#1a9b90 320px,#15b291 336px,#20c177 352px,#22c273 354px,#0086ca 355px,#0068d4 356px,#0054d7 357px,#004bd8 358px)"></i><i style="left:600px;width:6px;background:linear-gradient(#84837f 0px,#88877d 16px,#9ea598 32px,#7e7d73 48px,#88877e 64px,#89887e 80px,#7c8778 96px,#7c8174 112px,#6f736a 128px,#87856b 144px,#7f7d6c 160px,#77846a 176px,#677451 192px,#4f573f 208px,#5b6f4f 224px,#486a41 240px,#336444 256px,#2c6955 272px,#237f59 288px,#0f818f 304px,#0a98ad 320px,#12b298 336px,#21c177 352px,#22c274 354px,#0086cb 355px,#0067d5 356px,#0054d7 357px,#004bd8 358px)"></i><i style="left:606px;width:6px;background:linear-gradient(#747972 0px,#a59e90 16px,#8c8f6b 32px,#8b997a 48px,#787555 64px,#ab9c7e 80px,#798158 96px,#7a7e5b 112px,#778257 128px,#637852 144px,#5a7451 160px,#587a44 176px,#477a49 192px,#408157 208px,#29724b 224px,#1a6660 240px,#177372 256px,#086a86 272px,#067bb1 288px,#0283c4 304px,#0294c0 320px,#0baca6 336px,#1fc07a 352px,#20c177 354px,#0087ca 355px,#0066d5 356px,#0053d7 357px,#004bd8 358px)"></i><i style="left:612px;width:6px;background:linear-gradient(#8c7e47 0px,#677356 16px,#6d8362 32px,#7a7e4b 48px,#667a4d 64px,#61793c 80px,#528050 96px,#587b43 112px,#427837 128px,#316f47 144px,#367d55 160px,#276854 176px,#1b7172 192px,#0d6776 208px,#095d7c 224px,#0565a4 240px,#0162b8 256px,#0069c1 272px,#0071c9 288px,#007fca 304px,#0090c5 320px,#08aaac 336px,#1ebe7d 352px,#20c079 354px,#0083cc 355px,#0068d4 356px,#0055d7 357px,#004bd8 358px)"></i><i style="left:618px;width:6px;background:linear-gradient(#001f32 0px,#06151b 16px,#081e1c 32px,#031f28 48px,#071825 64px,#01243e 80px,#011f32 96px,#012038 112px,#001a32 128px,#01233b 144px,#002650 160px,#00316f 176px,#002962 192px,#003074 208px,#004bad 224px,#0050bd 240px,#0058c8 256px,#0060ce 272px,#006bd3 288px,#0074d1 304px,#0087ca 320px,#05a3b5 336px,#1bbb84 352px,#1dbd80 354px,#0080cd 355px,#0069d4 356px,#0054d7 357px,#004bd8 358px)"></i><i style="left:624px;width:6px;background:linear-gradient(#000304 0px,#000406 16px,#000102 32px,#00070a 48px,#000c12 64px,#00070d 80px,#000a11 96px,#000b16 112px,#000d1a 128px,#001021 144px,#002349 160px,#002450 176px,#00316f 192px,#003986 208px,#004399 224px,#0055c6 240px,#005bd3 256px,#0062d2 272px,#0066d2 288px,#0074d1 304px,#0085cb 320px,#03a1b8 336px,#19ba88 352px,#1bbc83 354px,#0089c9 355px,#0066d5 356px,#0054d7 357px,#004bd8 358px)"></i><i style="left:630px;width:6px;background:linear-gradient(#000000 0px,#000608 16px,#000204 32px,#000102 48px,#000a0e 64px,#000204 80px,#000c15 96px,#000a13 112px,#000c18 128px,#001123 144px,#00152e 160px,#002149 176px,#00357a 192px,#002e6b 208px,#00419a 224px,#0050c2 240px,#0054cb 256px,#0062d5 272px,#006bd3 288px,#0075d1 304px,#0083cc 320px,#03a1b8 336px,#1aba87 352px,#1cbc83 354px,#0083cc 355px,#0067d5 356px,#0055d7 357px,#004bd8 358px)"></i><i style="left:636px;width:6px;background:linear-gradient(#000608 0px,#000102 16px,#000000 32px,#00070a 48px,#000508 64px,#00070d 80px,#000a11 96px,#00080f 112px,#000913 128px,#000e1c 144px,#001835 160px,#002550 176px,#002e63 192px,#003171 208px,#0044a5 224px,#004eb9 240px,#005ad1 256px,#0060d5 272px,#006ad3 288px,#0072d1 304px,#0085cb 320px,#03a1b8 336px,#1bbb85 352px,#1cbd82 354px,#0084cc 355px,#0068d4 356px,#0053d7 357px,#004ad8 358px)"></i><i style="left:642px;width:6px;background:linear-gradient(#000304 0px,#00070a 16px,#000102 32px,#000204 48px,#000709 64px,#000306 80px,#000408 96px,#00101e 112px,#000d1a 128px,#001225 144px,#001327 160px,#002652 176px,#002759 192px,#004199 208px,#003a8a 224px,#0048ae 240px,#005bd1 256px,#0061d5 272px,#006bd3 288px,#0073d1 304px,#0083cb 320px,#03a1b8 336px,#1aba87 352px,#1cbc83 354px,#0086ca 355px,#0068d4 356px,#0054d7 357px,#004bd8 358px)"></i><i style="left:648px;width:6px;background:linear-gradient(#000000 0px,#000304 16px,#000608 32px,#000406 48px,#000102 64px,#00060a 80px,#00080f 96px,#001223 112px,#001223 128px,#001935 144px,#00152c 160px,#001d3d 176px,#002d64 192px,#003885 208px,#0046a5 224px,#004fbd 240px,#005bcf 256px,#005fd0 272px,#006bd3 288px,#0074d1 304px,#0084cb 320px,#03a1b9 336px,#1abb87 352px,#1cbc82 354px,#0083cc 355px,#0067d4 356px,#0054d7 357px,#004ad8 358px)"></i><i style="left:654px;width:6px;background:linear-gradient(#000608 0px,#00070a 16px,#000102 32px,#000508 48px,#00080c 64px,#00080f 80px,#00070c 96px,#000d18 112px,#00070f 128px,#001021 144px,#001a37 160px,#002450 176px,#002f68 192px,#003378 208px,#0044a3 224px,#004eb4 240px,#0058ca 256px,#0060d5 272px,#0067d4 288px,#0072d1 304px,#0085cb 320px,#03a1b8 336px,#1abb87 352px,#1cbc82 354px,#0083cc 355px,#0066d4 356px,#0054d7 357px,#004ad8 358px)"></i><i style="left:660px;width:6px;background:linear-gradient(#000000 0px,#000102 16px,#000000 32px,#00080c 48px,#000508 64px,#00060a 80px,#000f1c 96px,#00070d 112px,#000811 128px,#001023 144px,#001833 160px,#002756 176px,#002e6b 192px,#003881 208px,#00409a 224px,#004bb2 240px,#005fd3 256px,#0062d5 272px,#006ad3 288px,#0071d2 304px,#0083cb 320px,#03a0ba 336px,#19ba88 352px,#1bbc83 354px,#0080cd 355px,#0067d4 356px,#0055d7 357px,#004bd8 358px)"></i><i style="left:666px;width:6px;background:linear-gradient(#000000 0px,#000406 16px,#000406 32px,#00070a 48px,#000204 64px,#000c15 80px,#000911 96px,#000c15 112px,#000c18 128px,#00172e 144px,#001b39 160px,#002049 176px,#00295b 192px,#003c87 208px,#00449e 224px,#004eb9 240px,#0055c4 256px,#0061d5 272px,#0068d4 288px,#0076d0 304px,#0084cb 320px,#03a1b9 336px,#1abb86 352px,#1cbd81 354px,#0080cd 355px,#0066d5 356px,#0054d7 357px,#004bd8 358px)"></i><i style="left:672px;width:6px;background:linear-gradient(#000000 0px,#000608 16px,#00080c 32px,#00080c 48px,#000204 64px,#000508 80px,#000a11 96px,#00111e 112px,#00050b 128px,#001830 144px,#001830 160px,#001b3e 176px,#002556 192px,#003376 208px,#004197 224px,#0056c8 240px,#005acf 256px,#0064d5 272px,#0069d3 288px,#0074d1 304px,#0086ca 320px,#03a1b8 336px,#19ba87 352px,#1cbc83 354px,#0085cb 355px,#0066d5 356px,#0054d7 357px,#004bd8 358px)"></i><i style="left:678px;width:6px;background:linear-gradient(#000000 0px,#000304 16px,#000608 32px,#000508 48px,#000102 64px,#000a11 80px,#00080f 96px,#00050a 112px,#000a13 128px,#001021 144px,#001e40 160px,#001937 176px,#003475 192px,#00377f 208px,#003c93 224px,#0054c4 240px,#0054c6 256px,#0060d5 272px,#0069d4 288px,#0074d1 304px,#0085cb 320px,#03a1b9 336px,#1aba87 352px,#1cbc83 354px,#0085cb 355px,#0068d4 356px,#0053d7 357px,#004ad8 358px)"></i><i style="left:684px;width:6px;background:linear-gradient(#000304 0px,#000406 16px,#000304 32px,#000406 48px,#000508 64px,#000102 80px,#000306 96px,#00060d 112px,#001223 128px,#001932 144px,#001a37 160px,#002550 176px,#002452 192px,#003781 208px,#00419a 224px,#004ab0 240px,#0054c6 256px,#0062d5 272px,#006ad3 288px,#0074d1 304px,#0085cb 320px,#03a0b8 336px,#1aba87 352px,#1cbc82 354px,#0087ca 355px,#0067d4 356px,#0054d7 357px,#004bd8 358px)"></i><i style="left:690px;width:6px;background:linear-gradient(#000608 0px,#000304 16px,#00070a 32px,#000406 48px,#00090e 64px,#000306 80px,#000d18 96px,#00080f 112px,#001120 128px,#001225 144px,#001830 160px,#00234b 176px,#002c66 192px,#003378 208px,#00419a 224px,#004fb4 240px,#0056cb 256px,#0062d5 272px,#006ad3 288px,#0073d1 304px,#0083cc 320px,#04a1b7 336px,#1abb86 352px,#1dbd81 354px,#0086ca 355px,#0066d4 356px,#0054d7 357px,#004ad8 358px)"></i><i style="left:696px;width:6px;background:linear-gradient(#000608 0px,#000102 16px,#000204 32px,#000406 48px,#000a11 64px,#000a11 80px,#000b13 96px,#000306 112px,#000a13 128px,#00152c 144px,#001a37 160px,#001a3c 176px,#00285b 192px,#003683 208px,#003a8a 224px,#004ebb 240px,#0058cd 256px,#0062d5 272px,#0069d4 288px,#0072d1 304px,#0086ca 320px,#03a2b7 336px,#19ba88 352px,#1cbc83 354px,#0088c9 355px,#0065d5 356px,#0054d7 357px,#004ad8 358px)"></i><i style="left:702px;width:6px;background:linear-gradient(#000608 0px,#000000 16px,#000b10 32px,#00080c 48px,#00060a 64px,#00080f 80px,#000911 96px,#000a13 112px,#000c18 128px,#001d3b 144px,#002044 160px,#00295b 176px,#002d68 192px,#00377a 208px,#003f98 224px,#004ebb 240px,#005bd1 256px,#0060d3 272px,#0069d4 288px,#0074d1 304px,#0084cb 320px,#03a1b8 336px,#1aba87 352px,#1cbc82 354px,#0085cb 355px,#0066d5 356px,#0055d7 357px,#004ad8 358px)"></i><i style="left:708px;width:6px;background:linear-gradient(#000000 0px,#000102 16px,#000102 32px,#000000 48px,#000303 64px,#00070d 80px,#00060a 96px,#000b15 112px,#00101e 128px,#00162e 144px,#001228 160px,#002550 176px,#002e6b 192px,#002f72 208px,#00419c 224px,#004fb6 240px,#0056cd 256px,#0061d5 272px,#0068d4 288px,#0071d2 304px,#0085cb 320px,#03a0b8 336px,#19ba87 352px,#1cbc83 354px,#0081cc 355px,#0067d4 356px,#0054d7 357px,#004ad8 358px)"></i><i style="left:714px;width:6px;background:linear-gradient(#000608 0px,#000608 16px,#000508 32px,#00090e 48px,#000406 64px,#000508 80px,#000d18 96px,#000f1c 112px,#000c18 128px,#000f21 144px,#001733 160px,#001e42 176px,#002756 192px,#003985 208px,#003c93 224px,#004ab2 240px,#005bcc 256px,#0061d5 272px,#006ad3 288px,#0072d1 304px,#0083cb 320px,#03a0b8 336px,#1abb86 352px,#1cbd82 354px,#0088c9 355px,#0065d5 356px,#0054d7 357px,#004ad8 358px)"></i><i style="left:720px;width:6px;background:linear-gradient(#000000 0px,#000102 16px,#00080c 32px,#000204 48px,#00070c 64px,#00070c 80px,#000a13 96px,#00050b 112px,#000b15 128px,#000e1c 144px,#00142c 160px,#00214b 176px,#002656 192px,#003986 208px,#00429c 224px,#0048ae 240px,#0059ca 256px,#0060d3 272px,#0068d1 288px,#0073d1 304px,#0084cb 320px,#03a0ba 336px,#1abb86 352px,#1cbd82 354px,#0084cb 355px,#0068d4 356px,#0053d7 357px,#004bd8 358px)"></i><i style="left:726px;width:6px;background:linear-gradient(#000000 0px,#000000 16px,#000204 32px,#000508 48px,#000a11 64px,#000102 80px,#000911 96px,#000d17 112px,#000c18 128px,#001021 144px,#001a37 160px,#001f45 176px,#002d66 192px,#003171 208px,#0041a1 224px,#004ab5 240px,#0054c4 256px,#0062d5 272px,#006ad3 288px,#0073d1 304px,#0084cb 320px,#03a0b9 336px,#1aba88 352px,#1bbc84 354px,#0085cb 355px,#0066d4 356px,#0054d7 357px,#004bd8 358px)"></i><i style="left:732px;width:6px;background:linear-gradient(#000304 0px,#000304 16px,#000000 32px,#000406 48px,#00060a 64px,#00070d 80px,#000408 96px,#000d18 112px,#001324 128px,#001427 144px,#002144 160px,#00295b 176px,#002b64 192px,#003a87 208px,#00429e 224px,#004ab2 240px,#0054c6 256px,#0063d4 272px,#0069d3 288px,#0074d1 304px,#0084cb 320px,#03a1b8 336px,#1abb86 352px,#1cbc82 354px,#008ac9 355px,#0067d4 356px,#0053d7 357px,#0049d8 358px)"></i><i style="left:738px;width:6px;background:linear-gradient(#000304 0px,#000406 16px,#000406 32px,#000406 48px,#00060a 64px,#000a11 80px,#000408 96px,#00080f 112px,#001529 128px,#001327 144px,#002147 160px,#00244d 176px,#002a62 192px,#003886 208px,#00409a 224px,#0051c2 240px,#0056c8 256px,#0060d5 272px,#006ad4 288px,#0074d1 304px,#0084cb 320px,#03a1b9 336px,#1aba87 352px,#1cbc83 354px,#008ac9 355px,#0069d4 356px,#0054d7 357px,#004ad8 358px)"></i><i style="left:744px;width:6px;background:linear-gradient(#000608 0px,#000102 16px,#000204 32px,#000406 48px,#00060a 64px,#00070c 80px,#00060a 96px,#000b15 112px,#000b16 128px,#001427 144px,#001f40 160px,#002752 176px,#001e47 192px,#003a8f 208px,#00409a 224px,#0052c1 240px,#0056cd 256px,#0061d3 272px,#0068d4 288px,#0074d1 304px,#0085cb 320px,#03a0b9 336px,#19ba88 352px,#1bbc83 354px,#0085cb 355px,#0068d4 356px,#0055d7 357px,#004bd8 358px)"></i><i style="left:750px;width:6px;background:linear-gradient(#000304 0px,#000102 16px,#000406 32px,#000406 48px,#000508 64px,#000306 80px,#00070d 96px,#000d18 112px,#000e1c 128px,#001a35 144px,#001937 160px,#00234b 176px,#002f6a 192px,#003176 208px,#003f93 224px,#004cad 240px,#0058cd 256px,#0060d5 272px,#0068d4 288px,#0072d1 304px,#0083cc 320px,#03a0b9 336px,#1aba87 352px,#1cbc82 354px,#0082cc 355px,#0067d4 356px,#0053d7 357px,#004bd8 358px)"></i><i style="left:756px;width:2px;background:linear-gradient(#000000 0px,#000000 16px,#000406 32px,#000000 48px,#00080c 64px,#00090b 80px,#000e1a 96px,#001627 112px,#000913 128px,#001427 144px,#002548 160px,#002b64 176px,#002a5d 192px,#00357f 208px,#003f9a 224px,#004aad 240px,#0057c1 256px,#005ed5 272px,#0068d4 288px,#0073d1 304px,#0083cc 320px,#03a0b8 336px,#1abb86 352px,#1cbc83 354px,#0088ca 355px,#0069d4 356px,#0056d7 357px,#004ad8 358px)"></i></div>
<canvas id="c" width="758" height="359"></canvas>
<svg width="960" height="480" viewBox="0 0 960 480">
<defs>
<linearGradient id="cb" x1="0" y1="1" x2="0" y2="0">
<stop offset="0" stop-color="#0a37d7"/>
<stop offset="0.12" stop-color="#0078d2"/>
<stop offset="0.22" stop-color="#00a5be"/>
<stop offset="0.28" stop-color="#1ebe82"/>
<stop offset="0.36" stop-color="#3cdc32"/>
<stop offset="0.43" stop-color="#64f000"/>
<stop offset="0.50" stop-color="#aaf000"/>
<stop offset="0.61" stop-color="#faf500"/>
<stop offset="0.68" stop-color="#ffaf00"/>
<stop offset="0.75" stop-color="#ff8200"/>
<stop offset="1" stop-color="#ff1400"/>
</linearGradient>
</defs>
<g id="axes" stroke="#000" fill="none">
<path d="M105 48.5H865.5M106.1 48V409M864.6 48V409" stroke-width="1.2"/><path d="M105 408H865.5" stroke-width="2"/>
</g>
<g id="ticks" stroke="#000" stroke-width="2">
<line x1="105.8" y1="408" x2="105.8" y2="411.8"/>
<line x1="105.8" y1="48.5" x2="105.8" y2="44.1"/>
<line x1="137.4" y1="408" x2="137.4" y2="411.8"/>
<line x1="137.4" y1="48.5" x2="137.4" y2="44.1"/>
<line x1="169.0" y1="408" x2="169.0" y2="411.8"/>
<line x1="169.0" y1="48.5" x2="169.0" y2="44.1"/>
<line x1="200.6" y1="408" x2="200.6" y2="411.8"/>
<line x1="200.6" y1="48.5" x2="200.6" y2="44.1"/>
<line x1="232.2" y1="408" x2="232.2" y2="413.8"/>
<line x1="232.2" y1="48.5" x2="232.2" y2="42.5"/>
<line x1="263.8" y1="408" x2="263.8" y2="411.8"/>
<line x1="263.8" y1="48.5" x2="263.8" y2="44.1"/>
<line x1="295.4" y1="408" x2="295.4" y2="411.8"/>
<line x1="295.4" y1="48.5" x2="295.4" y2="44.1"/>
<line x1="327.0" y1="408" x2="327.0" y2="411.8"/>
<line x1="327.0" y1="48.5" x2="327.0" y2="44.1"/>
<line x1="358.6" y1="408" x2="358.6" y2="413.8"/>
<line x1="358.6" y1="48.5" x2="358.6" y2="42.5"/>
<line x1="390.2" y1="408" x2="390.2" y2="411.8"/>
<line x1="390.2" y1="48.5" x2="390.2" y2="44.1"/>
<line x1="421.8" y1="408" x2="421.8" y2="411.8"/>
<line x1="421.8" y1="48.5" x2="421.8" y2="44.1"/>
<line x1="453.4" y1="408" x2="453.4" y2="411.8"/>
<line x1="453.4" y1="48.5" x2="453.4" y2="44.1"/>
<line x1="485.0" y1="408" x2="485.0" y2="413.8"/>
<line x1="485.0" y1="48.5" x2="485.0" y2="42.5"/>
<line x1="516.6" y1="408" x2="516.6" y2="411.8"/>
<line x1="516.6" y1="48.5" x2="516.6" y2="44.1"/>
<line x1="548.2" y1="408" x2="548.2" y2="411.8"/>
<line x1="548.2" y1="48.5" x2="548.2" y2="44.1"/>
<line x1="579.8" y1="408" x2="579.8" y2="411.8"/>
<line x1="579.8" y1="48.5" x2="579.8" y2="44.1"/>
<line x1="611.4" y1="408" x2="611.4" y2="413.8"/>
<line x1="611.4" y1="48.5" x2="611.4" y2="42.5"/>
<line x1="643.0" y1="408" x2="643.0" y2="411.8"/>
<line x1="643.0" y1="48.5" x2="643.0" y2="44.1"/>
<line x1="674.6" y1="408" x2="674.6" y2="411.8"/>
<line x1="674.6" y1="48.5" x2="674.6" y2="44.1"/>
<line x1="706.2" y1="408" x2="706.2" y2="411.8"/>
<line x1="706.2" y1="48.5" x2="706.2" y2="44.1"/>
<line x1="737.8" y1="408" x2="737.8" y2="413.8"/>
<line x1="737.8" y1="48.5" x2="737.8" y2="42.5"/>
<line x1="769.4" y1="408" x2="769.4" y2="411.8"/>
<line x1="769.4" y1="48.5" x2="769.4" y2="44.1"/>
<line x1="801.0" y1="408" x2="801.0" y2="411.8"/>
<line x1="801.0" y1="48.5" x2="801.0" y2="44.1"/>
<line x1="832.6" y1="408" x2="832.6" y2="411.8"/>
<line x1="832.6" y1="48.5" x2="832.6" y2="44.1"/>
<line x1="864.2" y1="408" x2="864.2" y2="411.8"/>
<line x1="864.2" y1="48.5" x2="864.2" y2="44.1"/>
<line x1="100.2" y1="347.3" x2="106" y2="347.3"/>
<line x1="864.5" y1="347.3" x2="870" y2="347.3"/>
<line x1="100.2" y1="287.3" x2="106" y2="287.3"/>
<line x1="864.5" y1="287.3" x2="870" y2="287.3"/>
<line x1="100.2" y1="227.3" x2="106" y2="227.3"/>
<line x1="864.5" y1="227.3" x2="870" y2="227.3"/>
<line x1="100.2" y1="167.3" x2="106" y2="167.3"/>
<line x1="864.5" y1="167.3" x2="870" y2="167.3"/>
<line x1="100.2" y1="107.3" x2="106" y2="107.3"/>
<line x1="864.5" y1="107.3" x2="870" y2="107.3"/>
</g>
<!-- colorbar -->
<rect x="883.5" y="96.5" width="19" height="264" fill="url(#cb)" stroke="#000" stroke-width="1"/>
<g fill="#000" font-family="Liberation Serif" font-size="18">
<text x="215.5" y="41" textLength="539.5" lengthAdjust="spacingAndGlyphs">Range Corrected Signal at 387 nm FR of pollyxt_cpv at Mindelo</text>
</g>
<g fill="#000" font-family="Liberation Serif" font-size="17.5" text-anchor="end">
<text x="95" y="352.9" textLength="10.1" lengthAdjust="spacingAndGlyphs">5</text>
<text x="95.3" y="292.9" textLength="20.2" lengthAdjust="spacingAndGlyphs">10</text>
<text x="95.3" y="232.9" textLength="20.2" lengthAdjust="spacingAndGlyphs">15</text>
<text x="95.3" y="172.9" textLength="20.2" lengthAdjust="spacingAndGlyphs">20</text>
<text x="95.3" y="112.9" textLength="20.2" lengthAdjust="spacingAndGlyphs">25</text>
</g>
<g fill="#000" font-family="Liberation Serif" font-size="18" text-anchor="middle">
<text x="231.4" y="429.8" textLength="46.7" lengthAdjust="spacingAndGlyphs">04:00</text>
<text x="357.8" y="429.8" textLength="46.7" lengthAdjust="spacingAndGlyphs">08:00</text>
<text x="484.2" y="429.8" textLength="46.7" lengthAdjust="spacingAndGlyphs">12:00</text>
<text x="610.6" y="429.8" textLength="46.7" lengthAdjust="spacingAndGlyphs">16:00</text>
<text x="737.0" y="429.8" textLength="46.7" lengthAdjust="spacingAndGlyphs">20:00</text>
<text x="484.4" y="453.1" textLength="98.3" lengthAdjust="spacingAndGlyphs">Time [UTC]</text>
<text transform="translate(66,230) rotate(-90)" x="0" y="0" textLength="101.7" lengthAdjust="spacingAndGlyphs">Height [km]</text>
</g>
<g fill="#000" font-family="Liberation Serif" font-size="17">
<text x="908.3" y="101.8" textLength="46" lengthAdjust="spacingAndGlyphs">30.00</text>
<text x="908.3" y="167.8" textLength="46" lengthAdjust="spacingAndGlyphs">22.50</text>
<text x="908.3" y="233.8" textLength="46" lengthAdjust="spacingAndGlyphs">15.00</text>
<text x="908.3" y="299.8" textLength="36.5" lengthAdjust="spacingAndGlyphs">7.51</text>
<text x="908.3" y="365.8" textLength="35.8" lengthAdjust="spacingAndGlyphs">0.01</text>
</g>
<g fill="#000" font-family="Liberation Serif" font-size="12.5">
<text x="883" y="88.8" textLength="19.6" lengthAdjust="spacingAndGlyphs">a.u.</text>
</g>
<g fill="#000" font-family="Liberation Serif" font-size="15">
<text x="49.5" y="470.6" textLength="75.5" lengthAdjust="spacingAndGlyphs">2025-11-04</text>
<text x="193" y="470.6" textLength="79.2" lengthAdjust="spacingAndGlyphs">Version: 4.0</text>
</g>
<g fill="#ff3030" font-family="Liberation Serif" font-size="15" font-weight="bold">
<text x="692.3" y="461.1" textLength="88.6" lengthAdjust="spacingAndGlyphs">Preliminary</text>
<text x="692.3" y="476" textLength="59.7" lengthAdjust="spacingAndGlyphs">Results.</text>
</g>
<g fill="#000" font-family="Liberation Serif" font-size="9" font-weight="bold">
<text x="806" y="466.8" textLength="115" lengthAdjust="spacingAndGlyphs">© TROPOS &amp; OSCM 2025.</text>
<text x="806" y="476.5" textLength="97.2" lengthAdjust="spacingAndGlyphs">CC BY SA 4.0 License.</text>
</g>
<g id="cc">
<rect x="576" y="444" width="97" height="33" fill="#b4bbb5"/>
<rect x="576" y="467" width="97" height="10" fill="#303030"/>
<rect x="576" y="444" width="1" height="33" fill="#333"/>
<rect x="672.3" y="444" width="0.9" height="33" fill="#333"/>
<clipPath id="lc"><rect x="576" y="444" width="97" height="33"/></clipPath>
<circle cx="593.1" cy="458.7" r="15.6" fill="#b4bbb5" clip-path="url(#lc)"/>
<circle cx="593.1" cy="458.7" r="11.2" fill="#fff" stroke="#262626" stroke-width="2.3"/>
<text x="593" y="462.4" font-family="Liberation Sans" font-weight="bold" font-size="13.5" fill="#222" text-anchor="middle" textLength="14.3" lengthAdjust="spacingAndGlyphs">cc</text>
<circle cx="627.1" cy="455.1" r="8.2" fill="#fff" stroke="#262626" stroke-width="1.9"/>
<circle cx="627.3" cy="449.8" r="1.6" fill="#262626"/>
<path d="M625.1 452 h4.4 v5.6 h-0.9 v3.4 h-2.6 v-3.4 h-0.9 z" fill="#262626"/>
<circle cx="650.2" cy="455.1" r="8.2" fill="#fff" stroke="#262626" stroke-width="1.9"/>
<path d="M647.1 453.2 A3.9 3.9 0 1 1 647.0 457.1" fill="none" stroke="#262626" stroke-width="2.2"/>
<path d="M644.9 453.6 L649.5 453.6 L647.2 456.6 Z" fill="#262626"/>
<text x="626.2" y="475" font-family="Liberation Sans" font-weight="bold" font-size="7.4" fill="#fff" text-anchor="middle">BY</text>
<text x="649.2" y="475" font-family="Liberation Sans" font-weight="bold" font-size="7.4" fill="#fff" text-anchor="middle">SA</text>
</g>
<g stroke="#000" stroke-width="1">
<line x1="898.3" y1="162.5" x2="902.5" y2="162.5"/>
<line x1="898.3" y1="228.5" x2="902.5" y2="228.5"/>
<line x1="898.3" y1="294.5" x2="902.5" y2="294.5"/>
</g>
</svg>
<script>
(function(){
var W=758,H=359;
var cv=document.getElementById('c');if(!cv||!cv.getContext)return;
var ctx=cv.getContext('2d');var img=ctx.createImageData(W,H);var d=img.data;
var s=2463534242;function rnd(){s^=s<<13;s>>>=0;s^=s>>>17;s^=s<<5;s>>>=0;return s/4294967296;}
function gauss(){var u=rnd();if(u<1e-12)u=1e-12;return Math.sqrt(-2*Math.log(u))*Math.cos(6.283185307*rnd());}
function poisson(l){if(l<=0)return 0;if(l>30){var n=Math.round(l+Math.sqrt(l)*gauss());return n<0?0:n;}var L=Math.exp(-l),k=0,p=1;do{k++;p*=rnd();}while(p>L);return k-1;}
var st=[[0,0,62,218],[0.057,0,95,215],[0.12,0,120,210],[0.22,0,165,190],[0.28,30,190,130],[0.36,60,220,50],[0.43,100,240,0],[0.5,170,240,0],[0.61,250,245,0],[0.68,255,175,0],[0.75,255,130,0],[1,255,20,0]];
var N=512,LR=new Uint8Array(N),LG=new Uint8Array(N),LB=new Uint8Array(N);
for(var i=0;i<N;i++){var f=i/(N-1),j=0;while(j<st.length-2&&f>st[j+1][0])j++;var a=st[j],b=st[j+1],u=(f-a[0])/(b[0]-a[0]);LR[i]=a[1]+(b[1]-a[1])*u;LG[i]=a[2]+(b[2]-a[2])*u;LB[i]=a[3]+(b[3]-a[3])*u;}
function interp(tab,x){if(x<=tab[0][0])return tab[0][1];for(var i=1;i<tab.length;i++){if(x<=tab[i][0]){var a=tab[i-1],b=tab[i],u=(x-a[0])/(b[0]-a[0]);return a[1]+(b[1]-a[1])*u;}}return tab[tab.length-1][1];}
// RCS mean profile (night)
var MH=[[0,9.0],[0.6,8.6],[1.0,8],[1.9,6.5],[3.1,4.6],[4.8,3.1],[7.3,2.05],[8.9,1.55],[10.6,1.28],[12.3,1.0],[14.8,0.8],[17,0.52],[20,0.33],[22.5,0.25],[25,0.2],[29,0.12],[30,0.11]];
var LMH=MH.map(function(p){return [p[0],Math.log(p[1])];});
function mprof(h){return Math.exp(interp(LMH,h));}
// background noise scale vs time (abs x)
var SX=[[0,0],[336,0],[338,0.03],[341,0.05],[344,0.08],[347,0.15],[350,0.25],[354,0.4],[358,0.55],[364,0.7],[380,0.85],[450,0.95],[500,1],[620,1],[670,0.85],[690,0.65],[700,0.5],[706,0.35],[710,0.2],[714,0.1],[718,0.06],[721,0.04],[724,0.02],[726,0],[960,0]];
var BX=[[0,0],[335,0],[339,0.02],[343,0.03],[348,0.03],[700,0.03],[716,0.03],[720,0.02],[725,0],[960,0]];
// twilight dot multiplier
var TW=[[0,0],[324,0],[330,0.1],[336,0.3],[340,0.15],[343,0],[960,0]];
var TW2=[[0,0],[722,0],[724,0.03],[730,0.01],[740,0],[960,0]];
// day signal factor
var DF=[[0,0],[336,0],[345,0.6],[380,1],[700,1],[720,0.5],[730,0],[960,0]];
// column stripes [absx, width, factor]
var stripes=[[137,1,0.8],[139,1,0.8],[147,1,0.35],[185,6,0.2],[197,1,0.7],[205,1,0.6],[245,1,0.8],[252,1,0.6],[256,2,0.6],[259,4,0.4],[268,1,0.6],[273,1,0.8],[281,2,0.6],[312,6,0.2],[333,4,0.3],[342,1,0.6],[345,4,0.35],[355,1,0.7],[360,1,0.7],[369,3,0.6],[380,1,0.7],[388,1,0.7],[393,1,0.7],[398,1,0.7],[407,1,0.7],[409,5,0.6],[416,1,0.8],[418,2,0.8],[427,1,0.85],[351,1,0.6],[358,1,0.65],[364,2,0.7],[375,1,0.7],[384,1,0.75],[402,1,0.75],[422,1,0.8],[433,1,0.85],[440,1,0.85]];
var MF=[[0,1],[336,1],[340,0.6],[380,0.65],[420,0.8],[450,0.95],[480,1],[960,1]];
var colf=new Float32Array(W);for(var x=0;x<W;x++)colf[x]=interp(MF,x+106.5);
stripes.forEach(function(sp){for(var k=0;k<sp[1];k++){var cx=sp[0]-106+k;if(cx>=0&&cx<W)colf[cx]=colf[cx]*sp[2];}});
var nanCols={};nanCols[562-106]=1;nanCols[674-106]=1;
var K=0.007;
var band=[4.5,2.4,1.2,0.7];
for(var x=0;x<W;x++){
  var ax=x+106.5;
  var S=interp(SX,ax),bb=interp(BX,ax),tw=interp(TW,ax)+interp(TW2,ax),df=interp(DF,ax),cf=colf[x];
  for(var r=0;r<H;r++){
    var o=(r*W+x)*4,R,G,B;
    if(nanCols[x]){d[o]=0;d[o+1]=0;d[o+2]=0;d[o+3]=255;continue;}
    var v;
    if(r>=355){v=band[r-355]*(0.85+0.15*cf)*(1+0.08*gauss());}
    else{
      var h=(358.8-r)/12;
      var m=mprof(h)*(cf<1?Math.pow(cf,1+Math.min(1,Math.max(0,(h-4)/8))):cf)*(1+df*0.35*Math.exp(-((h-4)/2.5)*((h-4)/2.5)));
      var kh=K*h*h;
      var lam=m/kh+tw*Math.min(1,h/12);
      var n=poisson(lam);
      v=n*kh;
      if(S>0){v+=S*(0.71*h*h+0.7*h)*gauss();}
      if(bb>0){v+=bb*h*h;}
    }
    if(v<0.01){R=0;G=0;B=0;}
    else if(v>30){R=255;G=255;B=255;}
    else{var ii=Math.round((v-0.01)/29.99*(N-1));R=LR[ii];G=LG[ii];B=LB[ii];}
    d[o]=R;d[o+1]=G;d[o+2]=B;d[o+3]=255;
  }
}
ctx.putImageData(img,0,0);
})();

</script>
</body>
</html>
